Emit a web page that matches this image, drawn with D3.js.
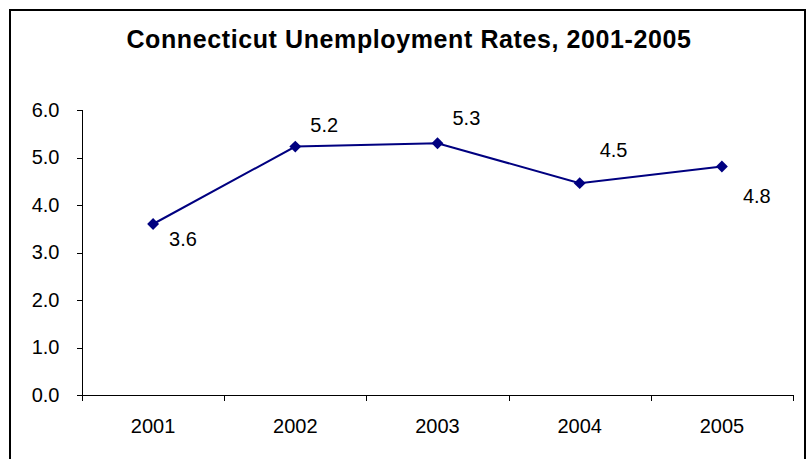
<!DOCTYPE html>
<html lang="en">
<head>
    <meta charset="UTF-8">
    <title>Connecticut Unemployment Rates, 2001-2005</title>
    <style>
        body {
            margin: 0;
            padding: 0;
            background: #fff;
            font-family: 'Liberation Sans', Arial, sans-serif;
        }
        .axis path, .axis line {
            stroke: #000;
            shape-rendering: crispEdges;
        }
        .axis text {
            font-size: 20px;
            fill: #000;
        }
        .label {
            font-size: 20px;
            fill: #000;
        }
    </style>
</head>
<body>
    <div id="chart"></div>

    <script src="https://d3js.org/d3.v7.min.js"></script>
    <script>
        const years = ["2001", "2002", "2003", "2004", "2005"];
        const rates = [3.6, 5.23, 5.3, 4.46, 4.81];
        const yTicks = [0, 1, 2, 3, 4, 5, 6];
        // where each data label sits relative to its point (text left, baseline)
        const labelOffsets = [[16, 22], [15, -15], [15, -18], [20, -26], [21, 36]];

        const W = 808, H = 459;
        const plotL = 82, plotR = 793, plotT = 110, plotB = 395;

        const svg = d3.select("#chart").append("svg")
            .attr("width", W)
            .attr("height", H);

        // outer frame
        svg.append("rect")
            .attr("x", 10)
            .attr("y", 10)
            .attr("width", 795)
            .attr("height", 480)
            .attr("fill", "none")
            .attr("stroke", "#000")
            .attr("stroke-width", 2);

        svg.append("text")
            .attr("x", 409)
            .attr("y", 48)
            .attr("text-anchor", "middle")
            .style("font-size", "25px")
            .style("font-weight", "bold")
            .style("letter-spacing", "0.6px")
            .text("Connecticut Unemployment Rates, 2001-2005");

        const x = d3.scaleBand()
            .domain(years)
            .range([plotL, plotR]);

        const y = d3.scaleLinear()
            .domain([0, 6])
            .range([plotB, plotT]);

        // x axis: ticks on category boundaries
        const xAxis = svg.append("g")
            .attr("class", "axis")
            .attr("transform", `translate(0,${plotB})`);
        xAxis.append("line")
            .attr("x1", plotL).attr("x2", plotR)
            .attr("y1", 0.5).attr("y2", 0.5);
        const bounds = years.map(d => x(d)).concat([x(years[years.length - 1]) + x.bandwidth()]);
        xAxis.selectAll(".tk").data(bounds).enter().append("line")
            .attr("class", "tk")
            .attr("x1", d => Math.round(d) + 0.5).attr("x2", d => Math.round(d) + 0.5)
            .attr("y1", 0).attr("y2", 6);
        xAxis.selectAll(".yr").data(years).enter().append("text")
            .attr("class", "yr")
            .attr("x", d => x(d) + x.bandwidth() / 2)
            .attr("y", 38)
            .attr("text-anchor", "middle")
            .text(d => d);

        const yAxis = svg.append("g")
            .attr("class", "axis")
            .attr("transform", `translate(${plotL + 0.5},0)`)
            .call(d3.axisLeft(y).tickValues(yTicks).tickFormat(d3.format(".1f")).tickSize(6).tickSizeOuter(0).tickPadding(17));
        yAxis.select(".domain").attr("d", `M0,${plotT}V${plotB}`);

        const cx = (d, i) => x(years[i]) + x.bandwidth() / 2;

        svg.append("path")
            .datum(rates)
            .attr("fill", "none")
            .attr("stroke", "#000080")
            .attr("stroke-width", 2)
            .attr("d", d3.line().x(cx).y(d => y(d)));

        svg.selectAll(".pt")
            .data(rates)
            .enter().append("path")
            .attr("class", "pt")
            .attr("d", d3.symbol().type(d3.symbolDiamond2).size(90))
            .attr("transform", (d, i) => `translate(${cx(d, i)},${y(d)})`)
            .attr("fill", "#000080");

        svg.selectAll(".label")
            .data(rates)
            .enter().append("text")
            .attr("class", "label")
            .attr("x", (d, i) => cx(d, i) + labelOffsets[i][0])
            .attr("y", (d, i) => y(d) + labelOffsets[i][1])
            .text(d => d3.format(".1f")(d));
    </script>
</body>
</html>
